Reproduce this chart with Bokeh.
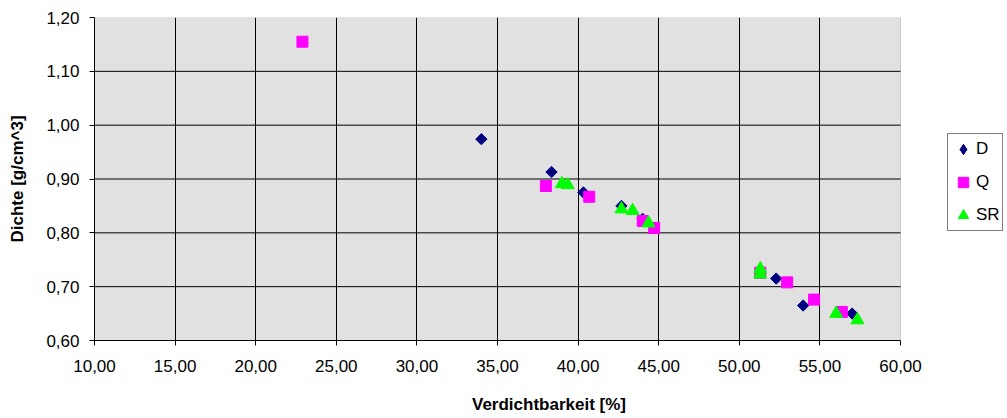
import numpy as np
from bokeh.plotting import figure
from bokeh.models import Range1d, FixedTicker, Legend, LegendItem, BoxAnnotation
from bokeh.embed import file_html
from bokeh.resources import INLINE

# ---- data ----
d_x = [34.0, 38.35, 40.33, 42.69, 44.0, 52.29, 53.96, 57.0]
d_y = [0.974, 0.913, 0.875, 0.850, 0.826, 0.715, 0.665, 0.650]

q_x = [22.9, 38.0, 40.69, 44.01, 44.72, 51.3, 52.97, 54.64, 56.36]
q_y = [1.155, 0.887, 0.867, 0.822, 0.809, 0.726, 0.708, 0.676, 0.653]

sr_x = [39.0, 39.36, 42.69, 43.38, 44.37, 51.3, 51.3, 56.01, 57.33]
sr_y = [0.891, 0.889, 0.844, 0.841, 0.818, 0.733, 0.723, 0.650, 0.638]

x_ticks = [10, 15, 20, 25, 30, 35, 40, 45, 50, 55, 60]
x_tick_labels = ["10,00", "15,00", "20,00", "25,00", "30,00", "35,00",
                 "40,00", "45,00", "50,00", "55,00", "60,00"]
y_ticks = [0.6, 0.7, 0.8, 0.9, 1.0, 1.1, 1.2]
y_tick_labels = ["0,60", "0,70", "0,80", "0,90", "1,00", "1,10", "1,20"]

series_names = ["D", "Q", "SR"]
x_title = "Verdichtbarkeit [%]"
y_title = "Dichte [g/cm^3]"

FONT = "Liberation Sans"

# ---- layout (pixels) ----
W, H = 1005, 416
LEFT, RIGHT, TOP = 94, 2, 17
PLOT_W, PLOT_H = 806, 324          # size of the grey plotting area
frame_w = W - LEFT - RIGHT
x0, x1 = x_ticks[0], x_ticks[-1]
y0, y1 = y_ticks[0], y_ticks[-1]
# the frame is wider than the grey area so the legend can sit right of it
x_end = x0 + (x1 - x0) * frame_w / PLOT_W

p = figure(width=W, height=H, output_backend="svg", toolbar_location=None,
           x_range=Range1d(x0, x_end), y_range=Range1d(y0, y1),
           min_border_left=LEFT, min_border_right=RIGHT,
           min_border_top=TOP, min_border_bottom=H - TOP - PLOT_H)

p.background_fill_color = "white"
p.border_fill_color = "white"
p.outline_line_color = None

plot_area = BoxAnnotation(left=x0, right=x1, bottom=y0, top=y1,
                          fill_color="#E1E1E1", fill_alpha=1,
                          line_color="#707070", line_width=1, level="image")
p.add_layout(plot_area)

# axes
for ax in (p.xaxis[0], p.yaxis[0]):
    ax.axis_line_color = "black"
    ax.axis_line_width = 1
    ax.major_tick_line_color = "black"
    ax.major_tick_out = 5
    ax.major_tick_in = 0
    ax.minor_tick_line_color = None
    ax.major_label_text_font = FONT
    ax.major_label_text_font_size = "17px"
    ax.major_label_text_color = "black"
    ax.axis_label_text_font = FONT
    ax.axis_label_text_font_size = "17px"
    ax.axis_label_text_font_style = "bold"
    ax.axis_label_text_color = "black"

p.xaxis.bounds = (x0, x1)
p.xaxis.ticker = FixedTicker(ticks=x_ticks)
p.xaxis.major_label_overrides = {t: l for t, l in zip(x_ticks, x_tick_labels)}
p.yaxis.ticker = FixedTicker(ticks=y_ticks)
p.yaxis.major_label_overrides = {t: l for t, l in zip(y_ticks, y_tick_labels)}
p.xaxis.axis_label = x_title
p.yaxis.axis_label = y_title
p.xaxis.major_label_standoff = 14
p.xaxis.axis_label_standoff = 20
p.yaxis.major_label_standoff = 10
p.yaxis.axis_label_standoff = 16

# vertical grid lines from the x ticks (stop before the grey area's right edge)
p.xgrid.ticker = FixedTicker(ticks=x_ticks[1:-1])
p.xgrid.grid_line_color = "black"
p.xgrid.grid_line_width = 1
# horizontal grid lines limited to the grey area
p.ygrid.visible = False
gy = y_ticks[1:-1]
p.segment(x0=[x0] * len(gy), y0=gy, x1=[x1] * len(gy), y1=gy,
          line_color="black", line_width=1)

# series
# D drawn as a diamond first (used as legend key; legend keys are drawn unrotated),
# then covered by the 45°-rotated squares that give the equal-sided diamond shape
r_d_key = p.scatter(d_x, d_y, marker="diamond", size=7,
                    fill_color="#000080", line_color="#000080")
r_d = p.scatter(d_x, d_y, marker="square", angle=np.pi / 4, size=8,
                fill_color="#000080", line_color="#000080")
r_q = p.scatter(q_x, q_y, marker="square", size=11,
                fill_color="#FF00FF", line_color="#FF00FF")
r_sr = p.scatter(sr_x, sr_y, marker="triangle", size=13,
                 fill_color="#00FF00", line_color="#00FF00")

legend = Legend(items=[LegendItem(label=series_names[0], renderers=[r_d_key]),
                       LegendItem(label=series_names[1], renderers=[r_q]),
                       LegendItem(label=series_names[2], renderers=[r_sr])],
                location=(PLOT_W + 47, 109))
legend.border_line_color = "black"
legend.border_line_width = 1
legend.background_fill_color = "white"
legend.background_fill_alpha = 1
legend.label_text_font = FONT
legend.label_text_font_size = "17px"
legend.label_text_color = "black"
legend.glyph_width = 26
legend.glyph_height = 26
legend.label_height = 26
legend.spacing = 7
legend.padding = 2
legend.margin = 0
legend.label_standoff = 0
p.add_layout(legend, "center")

open("out.html", "w").write(file_html(p, INLINE))
